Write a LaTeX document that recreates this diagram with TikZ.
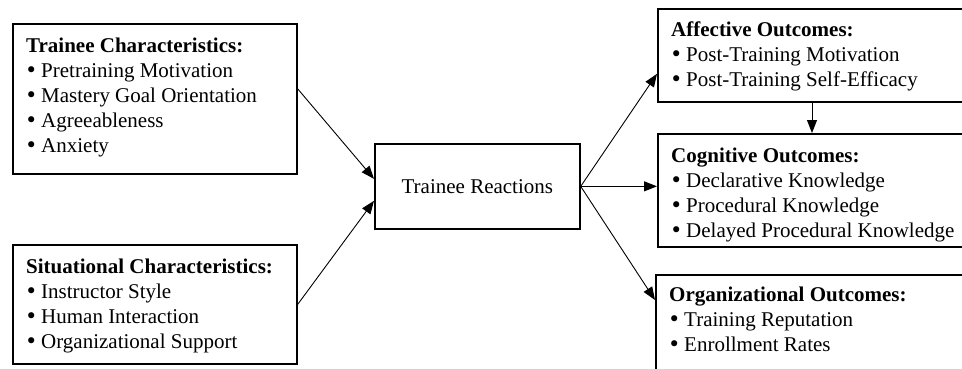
\documentclass[tikz,border=0pt]{standalone}
\usepackage{fontspec}
\setmainfont{Liberation Serif}
\newfontfamily\bulfont{DejaVu Sans}
\usetikzlibrary{arrows.meta,calc}
\newcommand\bul{\makebox[15pt][l]{\hspace*{-1pt}{\bulfont •}}}
\begin{document}
\begin{tikzpicture}[x=1pt,y=-1pt,
  box/.style={draw=black, line width=1.7pt, rectangle, inner sep=0pt, anchor=north west},
  txt/.style={anchor=north west, inner sep=0pt, align=left, font=\fontsize{21}{25}\selectfont},
  arr/.style={line width=0.9pt, -{Triangle[length=13pt,width=10pt]}}]
\useasboundingbox (0,0) rectangle (962,368);
\clip (0,0) rectangle (962,368);
% left boxes
\node[box, minimum width=284pt, minimum height=150pt] (tc) at (12,23) {};
\node[txt] (tct) at ($(tc.north west)+(14,14)$) {\rule{0pt}{15pt}\textbf{Trainee Characteristics:}\\ \bul Pretraining Motivation\\ \bul Mastery Goal Orientation\\ \bul Agreeableness\\ \bul Anxiety};
\node[box, minimum width=284pt, minimum height=119pt] (sc) at (12,244) {};
\node[txt] (sct) at ($(sc.north west)+(14,14)$) {\rule{0pt}{15pt}\textbf{Situational Characteristics:}\\ \bul Instructor Style\\ \bul Human Interaction\\ \bul Organizational Support};
% center
\node[box, minimum width=205pt, minimum height=85pt, font=\fontsize{21}{25}\selectfont] (tr) at (374,143) {Trainee Reactions};
% right boxes
\node[box, minimum width=311pt, minimum height=93pt] (af) at (657,8) {};
\node[txt] (aft) at ($(af.north west)+(14,13)$) {\rule{0pt}{15pt}\textbf{Affective Outcomes:}\\ \bul Post-Training Motivation\\ \bul Post-Training Self-Efficacy};
\node[box, minimum width=311pt, minimum height=113pt] (co) at (657,133) {};
\node[txt] (cot) at ($(co.north west)+(14,14)$) {\rule{0pt}{15pt}\textbf{Cognitive Outcomes:}\\ \bul Declarative Knowledge\\ \bul Procedural Knowledge\\ \bul Delayed Procedural Knowledge};
\node[box, minimum width=313pt, minimum height=100pt] (og) at (655,274) {};
\node[txt] (ogt) at ($(og.north west)+(14,12)$) {\rule{0pt}{15pt}\textbf{Organizational Outcomes:}\\ \bul Training Reputation\\ \bul Enrollment Rates};
% arrows
\draw[arr] ([yshift=10pt]tc.east) -- ([yshift=7.5pt]tr.west);
\draw[arr] (sc.east) -- ([yshift=-14.5pt]tr.west);
\draw[arr] (tr.east) -- ([yshift=-18.5pt]af.west);
\draw[arr] (tr.east) -- (tr.east -| co.west);
\draw[arr] (tr.east) -- ([yshift=-26pt]og.north west);
\draw[arr] ([xshift=155pt]af.south west) -- ([xshift=155pt]af.south west |- co.north);
\end{tikzpicture}
\end{document}
